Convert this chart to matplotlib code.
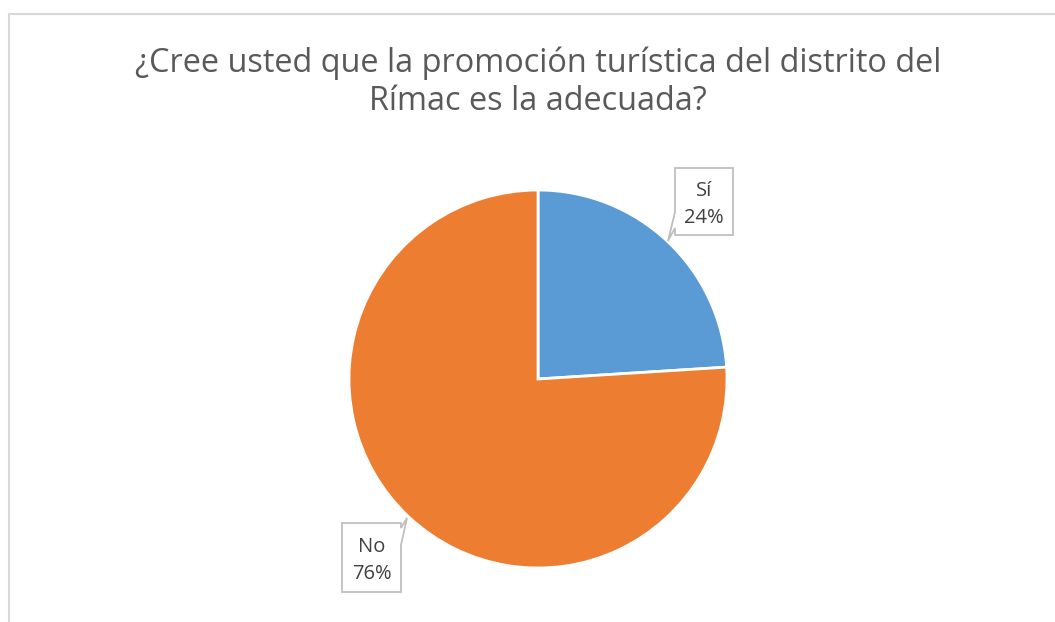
import matplotlib
matplotlib.use("Agg")
import matplotlib.pyplot as plt
from matplotlib.patches import Polygon

categories = ["Sí", "No"]
values = [24, 76]
colors = ["#5B9BD5", "#ED7D31"]
title = "¿Cree usted que la promoción turística del distrito del\nRímac es la adecuada?"

W, H = 1055, 622
fig = plt.figure(figsize=(W / 100, H / 100), dpi=100)
plt.rcParams['font.family'] = ['Open Sans', 'DejaVu Sans']

def fx(px):
    return px / W

def fy(py):
    return 1 - py / H

# frame (chart area border, partially cropped)
fig.add_artist(plt.Line2D([fx(8.5), fx(8.5)], [fy(13.5), 0], color="#d9d9d9", lw=1.5, transform=fig.transFigure))
fig.add_artist(plt.Line2D([fx(8.5), 1], [fy(13.5), fy(13.5)], color="#d9d9d9", lw=1.5, transform=fig.transFigure))

fig.text(fx(538), fy(82), title, ha="center", va="center", fontsize=23.4,
         color="#595959", linespacing=1.18)

cx, cy, r = 538, 379, 189
ax = fig.add_axes([fx(cx - r), fy(cy + r), (2 * r) / W, (2 * r) / H])
ax.pie(values, colors=colors, startangle=90, counterclock=False,
       wedgeprops=dict(edgecolor="white", linewidth=2))
ax.set_xlim(-1, 1)
ax.set_ylim(-1, 1)
ax.set_aspect("auto")
ax.axis("off")

def callout(box, tip, base, label, pct):
    x0, y0, x1, y1 = box
    side, b0, b1 = base
    if side == "left":
        poly_px = [(x0, y0), (x1, y0), (x1, y1), (x0, y1), (x0, b1), tip, (x0, b0)]
    else:
        poly_px = [(x0, y0), (x1, y0), (x1, b0), tip, (x1, b1), (x1, y1), (x0, y1)]
    poly = Polygon([(fx(a), fy(b)) for a, b in poly_px], closed=True,
                   facecolor="white", edgecolor="#bfbfbf", lw=1.3,
                   transform=fig.transFigure, zorder=5)
    fig.add_artist(poly)
    fig.text(fx((x0 + x1) / 2), fy((y0 + y1) / 2 + 3), f"{label}\n{pct}%",
             ha="center", va="center", fontsize=14.5, color="#404040",
             linespacing=1.45, zorder=6)

callout((675, 168, 733, 235), (668, 241), ("left", 212, 228), categories[0], values[0])
callout((342, 523, 401, 592), (407, 518), ("right", 528, 545), categories[1], values[1])

fig.savefig("out.png", dpi=100)
